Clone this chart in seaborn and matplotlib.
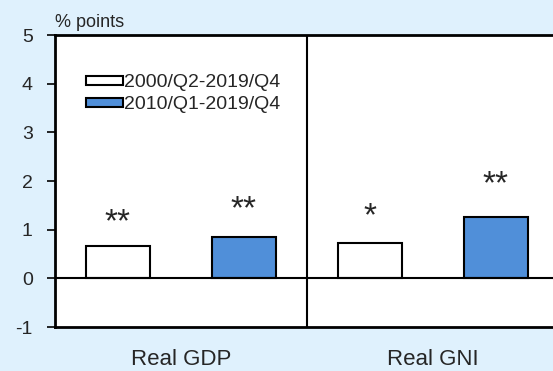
import pandas as pd
import seaborn as sns
import matplotlib.pyplot as plt
import matplotlib.patches as patches

categories = ['Real GDP', 'Real GNI']
periods = ['2000/Q2-2019/Q4', '2010/Q1-2019/Q4']
values_2000 = [0.67, 0.72]
values_2010 = [0.85, 1.26]
stars_2000 = ['**', '*']
stars_2010 = ['**', '**']
# baseline of the significance stars, in data units
star_y_2000 = [0.96, 1.09]
star_y_2010 = [1.24, 1.74]

df = pd.DataFrame({
    'cat': categories * 2,
    'period': [periods[0]] * 2 + [periods[1]] * 2,
    'value': values_2000 + values_2010,
})

sns.set_theme(style="white")
plt.rcParams['font.family'] = ['Liberation Sans', 'DejaVu Sans']
plt.rcParams['axes.unicode_minus'] = False

bg = '#dff1fd'
blue = '#508fd9'
fig = plt.figure(figsize=(5.53, 3.71), dpi=100, facecolor=bg)
ax = fig.add_axes([55 / 553, 1 - 327 / 371, 500 / 553, 292 / 371])

sns.barplot(
    data=df, x='cat', y='value', hue='period',
    palette=['white', blue], saturation=1, edgecolor='black', linewidth=1.5,
    width=1.0, gap=0.49, ax=ax, legend=False,
)

offsets = [-0.25, 0.25]
for i in range(len(categories)):
    ax.text(i + offsets[0], star_y_2000[i], stars_2000[i], ha='center', va='baseline', fontsize=24)
    ax.text(i + offsets[1], star_y_2010[i], stars_2010[i], ha='center', va='baseline', fontsize=24)

ax.axhline(0, color='black', lw=1.5)
ax.axvline(0.5, color='black', lw=1.5)
ax.set_xlim(-0.5, 1.485)
ax.set_ylim(-1, 5)
ax.set_yticks(range(-1, 6))
ax.set_xlabel('')
ax.set_ylabel('')
ax.tick_params(axis='y', left=True, length=6, width=1.2, labelsize=14, pad=10, color='black')
ax.tick_params(axis='x', bottom=False, labelsize=16, pad=9.5)
for s in ['left', 'top', 'bottom']:
    ax.spines[s].set_color('black')
    ax.spines[s].set_linewidth(2)
ax.spines['right'].set_visible(False)

ax.text(0.0, 1.015, '% points', transform=ax.transAxes, fontsize=13, ha='left', va='bottom')

handles = [
    patches.Rectangle((0, 0), 1, 1, facecolor='white', edgecolor='black', lw=1.5),
    patches.Rectangle((0, 0), 1, 1, facecolor=blue, edgecolor='black', lw=1.5),
]
ax.legend(handles=handles, labels=periods, frameon=False, fontsize=14,
          loc='upper left', bbox_to_anchor=(0.062, 0.865), handlelength=1.9,
          handleheight=0.36, handletextpad=0.05, labelspacing=0.25, borderaxespad=0,
          borderpad=0)

fig.savefig('out.png', dpi=100, facecolor=bg)
